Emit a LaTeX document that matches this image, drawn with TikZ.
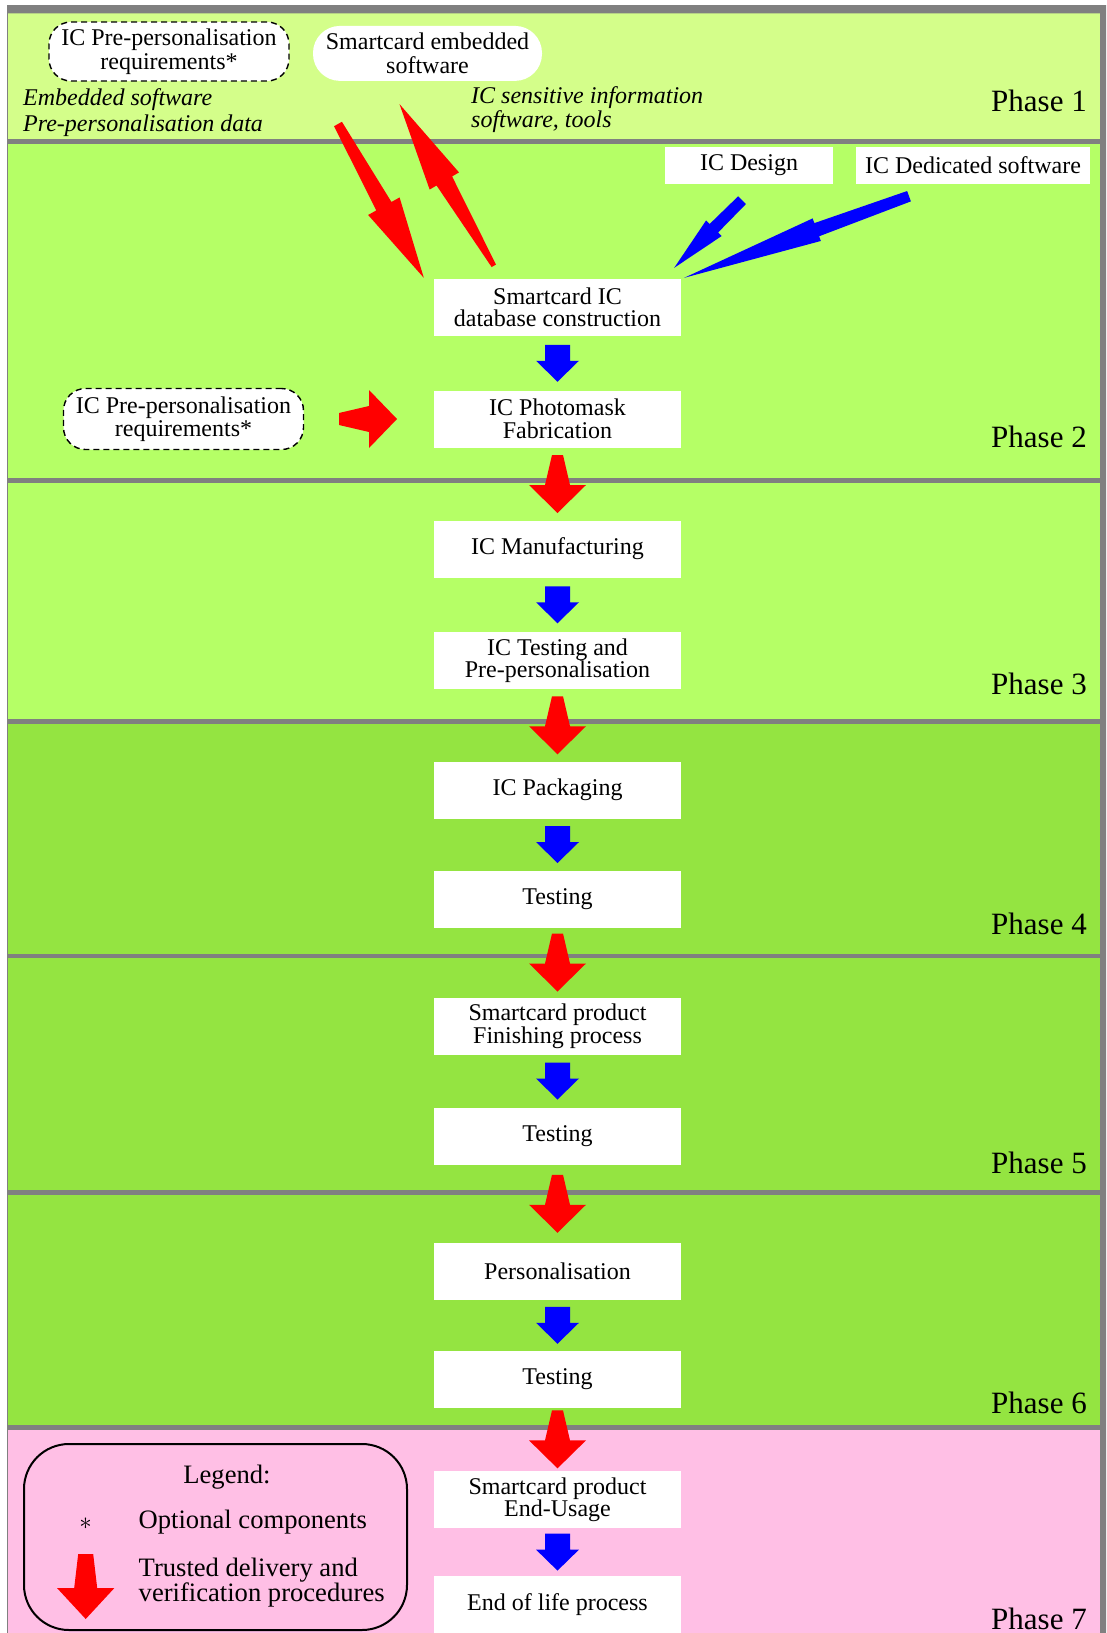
\documentclass[tikz,border=0pt]{standalone}
\usepackage{fontspec}
\setmainfont{Liberation Serif}
\usetikzlibrary{calc}

\definecolor{phaseA}{RGB}{212,254,138}
\definecolor{phaseB}{RGB}{181,255,102}
\definecolor{phaseC}{RGB}{148,228,65}
\definecolor{phaseD}{RGB}{255,191,229}
\definecolor{rule}{RGB}{128,128,128}

% colour, tail, tip, tail half-width, shaft half-width, head half-width, head length
\newcommand{\blockarrow}[7]{%
	\coordinate (ba) at (#2);
	\coordinate (bb) at (#3);
	\coordinate (bh) at ($(bb)!#7pt!(ba)$);
	\fill[#1] ($(ba)!#4pt!90:(bb)$) -- ($(bh)!#5pt!90:(bb)$) -- ($(bh)!#6pt!90:(bb)$) -- (bb)
		-- ($(bh)!#6pt!-90:(bb)$) -- ($(bh)!#5pt!-90:(bb)$) -- ($(ba)!#4pt!-90:(bb)$) -- cycle;}
\newcommand{\redstep}[2]{\blockarrow{red}{$(#1.south)!.5!(#2.north)+(0,-29)$}{$(#1.south)!.5!(#2.north)+(0,29)$}{5.5}{12.5}{28.5}{28}}
\newcommand{\bluestep}[2]{\blockarrow{blue}{$(#1.south)!.5!(#2.north)+(0,-18.5)$}{$(#1.south)!.5!(#2.north)+(0,18.5)$}{12.5}{12.5}{21.5}{21}}

\begin{document}
\begin{tikzpicture}[x = 1pt, y = -1pt,
	box/.style = {fill = white, inner sep = 0pt, align = center, font = \fontsize{24}{22.5}\selectfont},
	stage/.style = {box, minimum width = 247pt, minimum height = 57pt},
	source/.style = {box, minimum height = 37pt},
	pill/.style = {box, rounded corners = 27pt, minimum height = 55pt, font = \fontsize{24}{23.5}\selectfont},
	optional/.style = {pill, draw, dash pattern = on 6pt off 4pt, line width = 1.4pt, rounded corners = 22pt, minimum width = 240pt},
	phase/.style = {anchor = base east, inner sep = 0pt, font = \fontsize{31}{31}\selectfont},
	note/.style = {anchor = west, inner sep = 0pt, align = left},
	legendtext/.style = {anchor = west, inner sep = 0pt, align = left, font = \fontsize{26.6}{25}\selectfont}]

	\useasboundingbox[fill = white] (0,0) rectangle (1106,1633);

	% phase bands
	\fill[phaseA] (7,9) rectangle (1100,141.7);
	\fill[phaseB] (7,141.7) rectangle (1100,721.3);
	\fill[phaseC] (7,721.3) rectangle (1100,1427.5);
	\fill[phaseD] (7,1427.5) rectangle (1100,1633);
	\fill[rule] (7,5) rectangle (1106,13.3) (1100,5) rectangle (1106,1633);
	\draw[rule, line width = 1pt] (7.5,5) -- (7.5,1633);
	\foreach \y in {141.7, 480.3, 721.3, 956, 1192.4, 1427.5}
		\draw[rule, line width = 4.5pt] (7,\y) -- (1100,\y);

	\node[phase] (ph1) at (1087,111) {Phase 1};
	\node[phase] (ph2) at (1087,447) {Phase 2};
	\node[phase] (ph3) at (1087,694) {Phase 3};
	\node[phase] (ph4) at (1087,934) {Phase 4};
	\node[phase] (ph5) at (1087,1173) {Phase 5};
	\node[phase] (ph6) at (1087,1413) {Phase 6};
	\node[phase] (ph7) at (1087,1629) {Phase 7};

	% phase 1
	\node[optional, minimum height = 59pt] (pre1) at (169,51.5) {IC Pre-personalisation\\requirements*};
	\node[pill, minimum width = 229pt] (emb) at (427.5,53.4) {Smartcard embedded\\software};
	\node[note, font = \fontsize{24}{26}\selectfont\itshape] (embnote) at (23,112.3) {Embedded software\\Pre-personalisation data};
	\node[note, font = \fontsize{24}{24.5}\selectfont\itshape] (icnote) at (471,109.5) {IC sensitive information\\software, tools};

	% main flow
	\node[source, minimum width = 168.5pt] (design) at (749,165.5) {IC Design};
	\node[source, minimum width = 234pt] (dedic) at (973,165.5) {IC Dedicated software};
	\node[stage] (db) at (557.5,307.5) {Smartcard IC\\database construction};			%2
	\node[stage] (mask) at (557.5,419) {IC Photomask\\Fabrication};
	\node[optional, minimum height = 61pt] (pre2) at (183.5,419) {IC Pre-personalisation\\requirements*};
	\node[stage] (manu) at (557.5,549) {IC Manufacturing};				%3
	\node[stage] (test) at (557.5,660.5) {IC Testing and\\Pre-personalisation};
	\node[stage] (pack) at (557.5,790) {IC Packaging};					%4
	\node[stage] (testA) at (557.5,899) {Testing};
	\node[stage] (finish) at (557.5,1026) {Smartcard product\\Finishing process};	%5
	\node[stage] (testB) at (557.5,1136) {Testing};
	\node[stage] (perso) at (557.5,1271.5) {Personalisation};				%6
	\node[stage] (testC) at (557.5,1379) {Testing};
	\node[stage] (usage) at (557.5,1499.7) {Smartcard product\\End-Usage};		%7
	\node[stage] (eol) at (557.5,1604.5) {End of life process};

	\coordinate (down tail) at (338,124);
	\blockarrow{red}{down tail}{$(db.north west)+(-10,-1)$}{4.5}{8.7}{18}{82}
	\blockarrow{red}{$(db.north west)+(60,-13)$}{$(emb.south)+(-28,23)$}{2.5}{9}{17}{89}
	\blockarrow{blue}{$(design.south)+(-7,16)$}{$(db.north east)+(-7,-11)$}{5.5}{6}{11}{56}
	\blockarrow{blue}{$(dedic.south)+(-64,12)$}{$(db.north east)+(3,-1)$}{5.5}{7}{12}{141}
	\blockarrow{red}{$(pre2.east)!.5!(mask.west)+(-30,0)$}{$(pre2.east)!.5!(mask.west)+(28,0)$}{6}{13}{29}{28}

	\bluestep{db}{mask}
	\bluestep{manu}{test}
	\bluestep{pack}{testA}
	\bluestep{finish}{testB}
	\bluestep{perso}{testC}
	\bluestep{usage}{eol}
	\redstep{mask}{manu}
	\redstep{test}{pack}
	\redstep{testA}{finish}
	\redstep{testB}{perso}
	\redstep{testC}{usage}

	% legend
	\node[draw, line width = 2pt, rounded corners = 45pt, minimum width = 383pt, minimum height = 186pt] (legend) at (215.5,1537) {};
	\node[inner sep = 0pt, font = \fontsize{26.6}{25}\selectfont] (lgtitle) at (227,1477) {Legend:};
	\node[inner sep = 0pt, font = \fontsize{24}{24}\selectfont] (lgstar) at (85.7,1524) {$\ast$};
	\node[legendtext] (lgopt) at (138.5,1522.5) {Optional components};
	\node[legendtext] (lgtrust) at (138.5,1583) {Trusted delivery and\\verification procedures};
	\blockarrow{red}{$(lgstar)+(0,30)$}{$(lgstar)+(0,95)$}{7.5}{11.5}{28.7}{31}
\end{tikzpicture}
\end{document}
